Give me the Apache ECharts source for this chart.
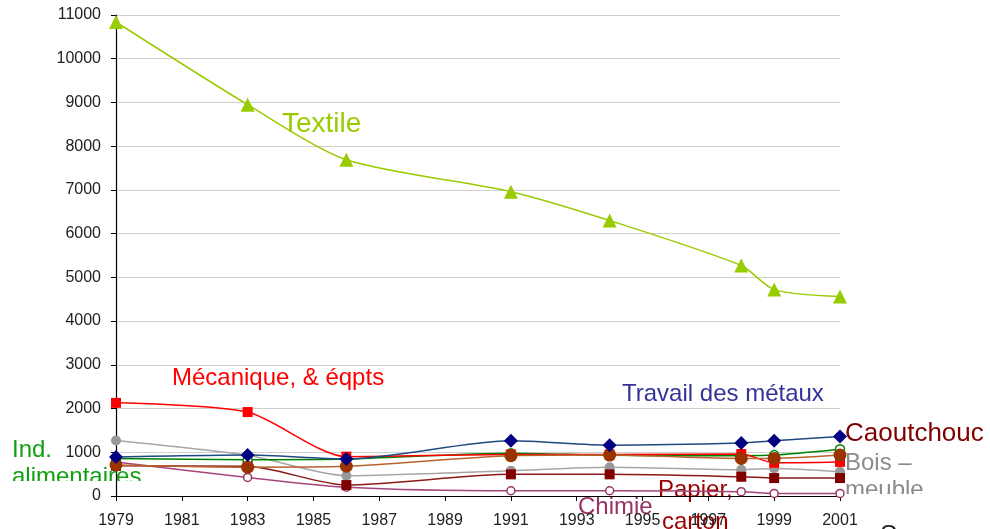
<!DOCTYPE html>
<html>
<head>
<meta charset="utf-8">
<script src="https://cdn.jsdelivr.net/npm/echarts@6/dist/echarts.min.js"></script>
<style>
  html, body { margin: 0; padding: 0; background: #fff; }
  #chart { width: 990px; height: 529px; }
</style>
</head>
<body>
<div id="chart"></div>
<script>
// survey years (x) and workforce per sector (y)
const years = [1979, 1983, 1986, 1991, 1994, 1998, 1999, 2001]
const baseYear = 1979

const textile = [10840, 8950, 7690, 6960, 6300, 5270, 4720, 4560]
const mecanique = [2130, 1920, 900, 950, 950, 960, 760, 780]
const metaux = [890, 935, 845, 1262, 1163, 1210, 1262, 1362]
const alimentaires = [860, 830, 845, 980, 930, 920, 935, 1070]
const caoutchouc = [710, 660, 680, 920, 935, 860, 860, 935]
const papier = [690, 680, 250, 495, 495, 440, 410, 410]
const bois = [1270, 930, 465, 580, 655, 600, 630, 555]
const chimie = [775, 425, 200, 120, 120, 100, 60, 60]

const yTicks = { min: 0, max: 11000, step: 1000 }

const label = '"Liberation Sans", Arial, sans-serif'

// x is stored as offset from the first year so the tick grid starts at 0
const toPoints = vals => vals.map((v, i) => [years[i] - baseYear, v])

const mkSeries = (name, vals, o) => ({
  name,
  type: 'line',
  smooth: 0.25,
  data: toPoints(vals),
  symbol: o.symbol,
  symbolSize: o.size,
  lineStyle: { color: o.line, width: 1.5 },
  itemStyle: o.hollow
    ? { color: '#fff', borderColor: o.marker, borderWidth: 1.5 }
    : { color: o.marker, borderWidth: 0 },
  z: o.z || 2,
  animation: false
})

const txt = (text, left, top, color, size, z) => ({
  type: 'text', left, top, z: z || -2,
  style: { text, fill: color, font: size + 'px ' + label }
})

const chart = echarts.init(document.getElementById('chart'))

chart.setOption({
  animation: false,
  grid: { left: 116, right: 150, top: 15, bottom: 32, containLabel: false },
  xAxis: {
    type: 'value',
    min: 0,
    max: 2001 - baseYear,
    interval: 2,
    axisLine: { lineStyle: { color: '#000', width: 1.2 } },
    axisTick: { length: 5, lineStyle: { color: '#000' } },
    axisLabel: {
      color: '#222',
      fontFamily: label,
      fontSize: 16,
      margin: 17,
      formatter: v => String(v + baseYear)
    },
    splitLine: { show: false }
  },
  yAxis: {
    type: 'value',
    min: yTicks.min,
    max: yTicks.max,
    interval: yTicks.step,
    axisLine: { show: true, lineStyle: { color: '#000', width: 1.2 } },
    axisTick: { show: true, length: 5, lineStyle: { color: '#000' } },
    axisLabel: {
      color: '#222', fontFamily: label, fontSize: 16, margin: 15,
      formatter: v => String(v)
    },
    splitLine: { lineStyle: { color: '#cfcfcf', width: 1 } }
  },
  series: [
    mkSeries('Textile', textile, { symbol: 'triangle', size: 14, line: '#99cc00', marker: '#99cc00' }),
    mkSeries('Bois – meuble', bois, { symbol: 'circle', size: 10, line: '#a6a6a6', marker: '#999999' }),
    mkSeries('Chimie', chimie, { symbol: 'circle', size: 8, line: '#a3477a', marker: '#993366', hollow: true }),
    mkSeries('Papier, carton', papier, { symbol: 'rect', size: 10, line: '#8b1a1a', marker: '#800000' }),
    mkSeries('Ind. alimentaires', alimentaires, { symbol: 'circle', size: 9, line: '#008000', marker: '#008000', hollow: true }),
    mkSeries('Mécanique, & éqpts', mecanique, { symbol: 'rect', size: 10, line: '#ff0000', marker: '#ff0000' }),
    mkSeries('Caoutchouc', caoutchouc, { symbol: 'circle', size: 13, line: '#b8632e', marker: '#993300' }),
    mkSeries('Travail des métaux', metaux, { symbol: 'diamond', size: 14, line: '#1f4a80', marker: '#000080' })
  ],
  graphic: [
    txt('Textile', 282, 110, '#99cc00', 28),
    txt('Mécanique, & éqpts', 172, 366, '#ff0000', 24),
    txt('Travail des métaux', 622, 382, '#333399', 24),
    txt('Caoutchouc', 845, 421, '#800000', 26),
    txt('Bois –', 845, 451, '#8c8c8c', 24),
    txt('meuble', 845, 478, '#8c8c8c', 24),
    txt('Ind.', 12, 438, '#11a011', 24),
    txt('alimentaires', 12, 465, '#11a011', 24),
    txt('Papier,', 658, 478, '#990000', 24),
    txt('carton', 662, 510, '#990000', 24),
    txt('Chimie', 578, 495, '#993366', 24),
    txt('Source', 880, 523, '#222', 26),
    // text boxes in the original are clipped
    { type: 'rect', z: -1, shape: { x: 8, y: 481, width: 140, height: 10 }, style: { fill: '#fff' } },
    { type: 'rect', z: -1, shape: { x: 843, y: 494, width: 90, height: 14 }, style: { fill: '#fff' } }
  ]
})
</script>
</body>
</html>
